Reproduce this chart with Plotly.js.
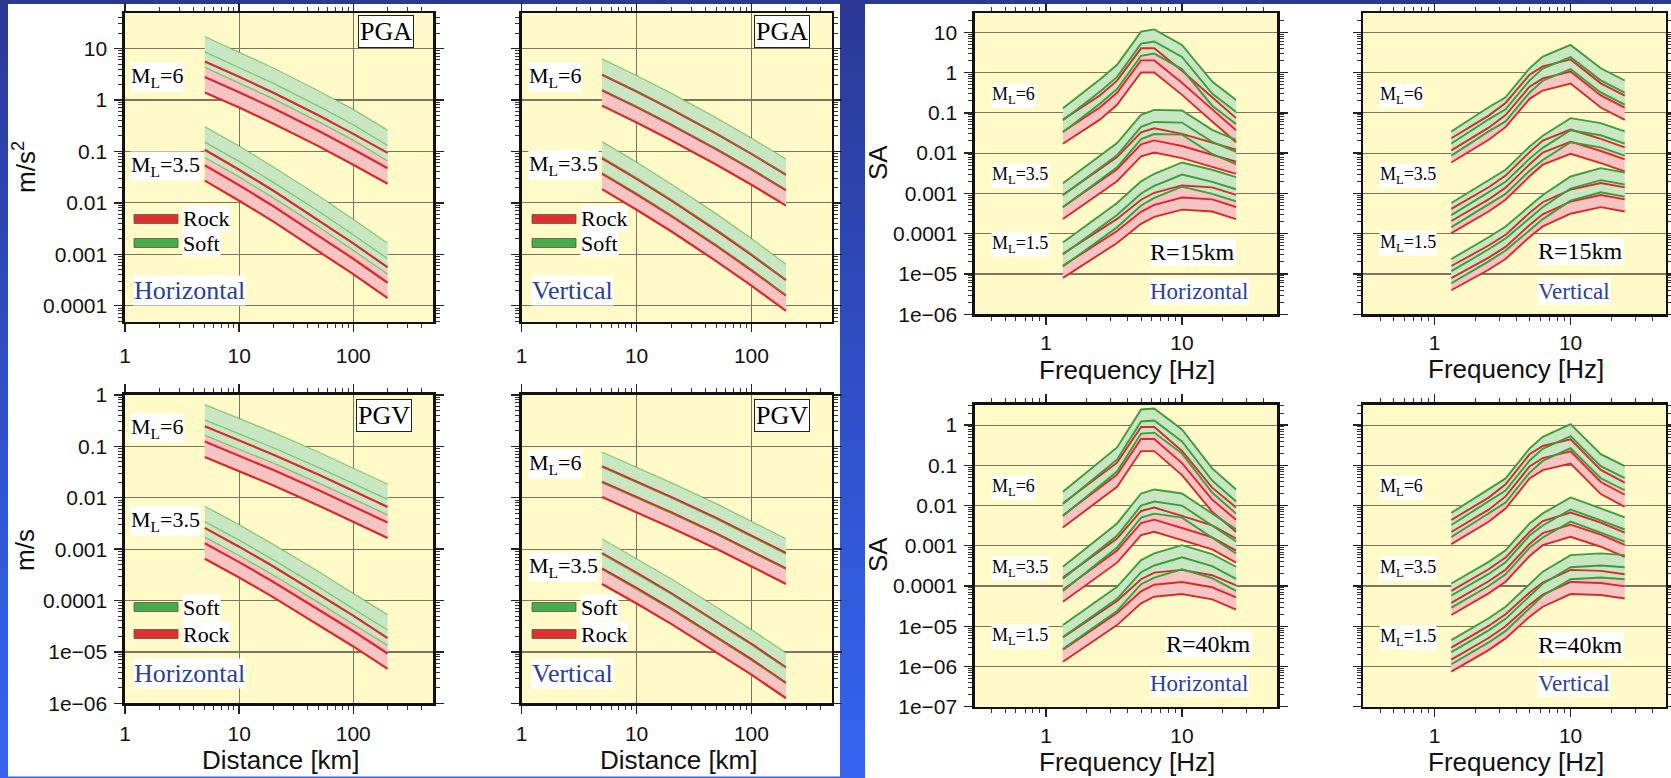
<!DOCTYPE html>
<html><head><meta charset="utf-8">
<script src="https://cdn.plot.ly/plotly-3.0.1.min.js"></script>
<style>
html,body{margin:0;padding:0;width:1671px;height:778px;overflow:hidden;
background:linear-gradient(180deg,#2b3894 0%,#3052cc 55%,#3464f0 100%);}
#chart{width:1671px;height:778px;}
</style></head><body><div id="chart"></div>
<script>
// ---------------- DATA ----------------
const DIST = [5, 10, 20, 50, 100, 200];                 // km
const FREQ = [1.33, 2.5, 3.33, 5, 6.25, 10, 16.67, 25];  // Hz
const SIGMA = 0.3;                                       // log10 band half-width (median x/÷ 2)

// PGA horizontal (m/s^2), median
const PGA_H_ROCK_M6  = [2.8, 1.42, 0.69, 0.25, 0.11, 0.047];
const PGA_H_SOFT_M6  = [8.6, 4.3, 2.1, 0.75, 0.33, 0.13];
const PGA_H_ROCK_M35 = [0.054, 0.022, 0.0086, 0.0023, 0.00082, 0.00028];
const PGA_H_SOFT_M35 = [0.152, 0.064, 0.025, 0.0068, 0.0024, 0.00082];
// PGA vertical
const PGA_V_ROCK_M6  = [1.55, 0.73, 0.33, 0.109, 0.045, 0.0176];
const PGA_V_SOFT_M6  = [3.16, 1.5, 0.68, 0.222, 0.091, 0.0358];
const PGA_V_ROCK_M35 = [0.037, 0.0147, 0.0056, 0.00144, 0.00049, 0.000158];
const PGA_V_SOFT_M35 = [0.0778, 0.031, 0.0117, 0.00303, 0.00102, 0.00032];
// PGV horizontal (m/s)
const PGV_H_ROCK_M6  = [0.124, 0.066, 0.0346, 0.014, 0.0069, 0.0033];
const PGV_H_SOFT_M6  = [0.327, 0.178, 0.094, 0.0385, 0.0192, 0.0093];
const PGV_H_ROCK_M35 = [0.0013, 0.00056, 0.00023, 6.7e-5, 2.55e-5, 9.3e-6];
const PGV_H_SOFT_M35 = [0.00343, 0.0015, 0.00062, 0.000182, 6.9e-5, 2.67e-5];
// PGV vertical
const PGV_V_ROCK_M6  = [0.0206, 0.0105, 0.0052, 0.002, 0.00093, 0.00042];
const PGV_V_SOFT_M6  = [0.039, 0.0199, 0.0099, 0.0038, 0.00176, 0.0008];
const PGV_V_ROCK_M35 = [0.00042, 0.000175, 7e-5, 1.95e-5, 7.2e-6, 2.5e-6];
const PGV_V_SOFT_M35 = [0.0008, 0.00033, 0.000133, 3.7e-5, 1.36e-5, 4.8e-6];

// SA horizontal, R = 15 km
const SA_H15_ROCK_M6  = [0.034, 0.137, 0.315, 2.0, 2.0, 0.557, 0.122, 0.037];
const SA_H15_SOFT_M6  = [0.0655, 0.34, 0.78, 5.2, 5.9, 2.43, 0.30, 0.105];
const SA_H15_ROCK_M35 = [4.6e-4, 2.0e-3, 4.0e-3, 0.0165, 0.0207, 0.015, 0.0093, 0.0061];
const SA_H15_SOFT_M35 = [9.0e-4, 4.3e-3, 8.9e-3, 0.0447, 0.0594, 0.0573, 0.019, 0.0107];
const SA_H15_ROCK_M15 = [1.6e-5, 6.3e-5, 1.17e-4, 3.5e-4, 5.2e-4, 7.9e-4, 7.1e-4, 4.6e-4];
const SA_H15_SOFT_M15 = [3.05e-5, 1.43e-4, 2.9e-4, 1.0e-3, 1.54e-3, 2.94e-3, 1.94e-3, 1.27e-3];
// SA vertical, R = 15 km
const SA_V15_ROCK_M6  = [0.0117, 0.0428, 0.088, 0.444, 0.714, 1.06, 0.27, 0.134];
const SA_V15_SOFT_M6  = [0.0173, 0.069, 0.122, 0.64, 1.25, 2.43, 0.64, 0.318];
const SA_V15_ROCK_M35 = [2.07e-4, 7.1e-4, 1.39e-3, 5.3e-3, 0.0103, 0.0192, 0.0113, 7.0e-3];
const SA_V15_SOFT_M35 = [2.9e-4, 1.09e-3, 1.94e-3, 7.3e-3, 0.0135, 0.037, 0.0278, 0.0173];
const SA_V15_ROCK_M15 = [7.9e-6, 2.55e-5, 4.7e-5, 1.65e-4, 3.03e-4, 6.25e-4, 9.1e-4, 7.1e-4];
const SA_V15_SOFT_M15 = [1.18e-5, 4.1e-5, 7.6e-5, 2.39e-4, 4.6e-4, 1.32e-3, 2.13e-3, 1.66e-3];
// SA horizontal, R = 40 km
const SA_H40_ROCK_M6  = [5.7e-3, 0.0283, 0.0585, 0.451, 0.451, 0.114, 0.014, 4.46e-3];
const SA_H40_SOFT_M6  = [0.011, 0.0632, 0.14, 1.23, 1.30, 0.391, 0.042, 0.0126];
const SA_H40_ROCK_M35 = [8.1e-5, 3.77e-4, 7.6e-4, 3.68e-3, 4.46e-3, 2.77e-3, 1.62e-3, 7.6e-4];
const SA_H40_SOFT_M35 = [1.51e-4, 8.3e-4, 1.8e-3, 0.01, 0.0126, 0.01, 3.2e-3, 1.28e-3];
const SA_H40_ROCK_M15 = [2.62e-6, 1.11e-5, 2.13e-5, 7.4e-5, 1.08e-4, 1.26e-4, 9.3e-5, 5.2e-5];
const SA_H40_SOFT_M15 = [5.4e-6, 2.43e-5, 4.8e-5, 2.21e-4, 3.24e-4, 5.2e-4, 3.12e-4, 1.51e-4];
// SA vertical, R = 40 km
const SA_V40_ROCK_M6  = [2.2e-3, 7.9e-3, 0.0169, 0.0942, 0.152, 0.222, 0.0385, 0.0186];
const SA_V40_SOFT_M6  = [3.3e-3, 0.0126, 0.0237, 0.132, 0.257, 0.531, 0.0953, 0.048];
const SA_V40_ROCK_M35 = [3.8e-5, 1.31e-4, 2.55e-4, 1.11e-3, 2.07e-3, 3.35e-3, 1.89e-3, 1.06e-3];
const SA_V40_SOFT_M35 = [5.8e-5, 2.0e-4, 3.9e-4, 1.8e-3, 3.2e-3, 7.98e-3, 4.26e-3, 2.54e-3];
const SA_V40_ROCK_M15 = [1.48e-6, 5.1e-6, 9.95e-6, 3.44e-5, 6.1e-5, 1.26e-4, 1.19e-4, 9.8e-5];
const SA_V40_SOFT_M15 = [2.27e-6, 7.9e-6, 1.53e-5, 5.8e-5, 1.14e-4, 2.94e-4, 3.24e-4, 2.94e-4];

// tick labels
const XT_DIST = [1, 10, 100];           const XL_DIST = ['1', '10', '100'];
const XT_FREQ = [1, 10];                const XL_FREQ = ['1', '10'];
const YT_PGA = [10, 1, 0.1, 0.01, 0.001, 0.0001];
const YL_PGA = ['10', '1', '0.1', '0.01', '0.001', '0.0001'];
const YT_PGV = [1, 0.1, 0.01, 0.001, 0.0001, 1e-5, 1e-6];
const YL_PGV = ['1', '0.1', '0.01', '0.001', '0.0001', '1e\u221205', '1e\u221206'];
const YT_SA15 = [10, 1, 0.1, 0.01, 0.001, 0.0001, 1e-5, 1e-6];
const YL_SA15 = ['10', '1', '0.1', '0.01', '0.001', '0.0001', '1e\u221205', '1e\u221206'];
const YT_SA40 = [1, 0.1, 0.01, 0.001, 0.0001, 1e-5, 1e-6, 1e-7];
const YL_SA40 = ['1', '0.1', '0.01', '0.001', '0.0001', '1e\u221205', '1e\u221206', '1e\u221207'];

// ---------------- LAYOUT / STYLE ----------------
const W = 1671, H = 778;
const fx = p => p / W, fy = p => 1 - p / H;
const PINK = '#f6c4c2', GREENF = '#c9e6c3';
const BLUE_TXT = '#2c3f98';
const SANS = 'Liberation Sans, Arial, sans-serif';
const SERIF = 'Liberation Serif, Times New Roman, serif';

const PANELS = [
  {n:1, box:[125,13.3,433,321.7], kind:'dist', yr:[-4.31,1.685], yt:YT_PGA, yl:YL_PGA, ylab:true, style:'L', so:5,
   groups:[[PGA_H_ROCK_M6,PGA_H_SOFT_M6],[PGA_H_ROCK_M35,PGA_H_SOFT_M35]]},
  {n:2, box:[521.7,13.3,831.7,321.7], kind:'dist', yr:[-4.31,1.685], yt:YT_PGA, yl:YL_PGA, ylab:false, style:'L', so:5,
   groups:[[PGA_V_ROCK_M6,PGA_V_SOFT_M6],[PGA_V_ROCK_M35,PGA_V_SOFT_M35]]},
  {n:3, box:[125,395,433,703.3], kind:'dist', yr:[-6,0], yt:YT_PGV, yl:YL_PGV, ylab:true, style:'L', so:2,
   groups:[[PGV_H_ROCK_M6,PGV_H_SOFT_M6],[PGV_H_ROCK_M35,PGV_H_SOFT_M35]]},
  {n:4, box:[521.7,395,831.7,703.3], kind:'dist', yr:[-6,0], yt:YT_PGV, yl:YL_PGV, ylab:false, style:'L', so:2,
   groups:[[PGV_V_ROCK_M6,PGV_V_SOFT_M6],[PGV_V_ROCK_M35,PGV_V_SOFT_M35]]},
  {n:5, box:[975,13.3,1277,314.3], kind:'freq', yr:[-6,1.47], yt:YT_SA15, yl:YL_SA15, ylab:true, style:'R', so:0,
   groups:[[SA_H15_ROCK_M6,SA_H15_SOFT_M6],[SA_H15_ROCK_M35,SA_H15_SOFT_M35],[SA_H15_ROCK_M15,SA_H15_SOFT_M15]]},
  {n:6, box:[1363.3,13.3,1665.7,314.3], kind:'freq', yr:[-6,1.47], yt:YT_SA15, yl:YL_SA15, ylab:false, style:'R', so:0,
   groups:[[SA_V15_ROCK_M6,SA_V15_SOFT_M6],[SA_V15_ROCK_M35,SA_V15_SOFT_M35],[SA_V15_ROCK_M15,SA_V15_SOFT_M15]]},
  {n:7, box:[975,405,1277,706.7], kind:'freq', yr:[-7,0.5], yt:YT_SA40, yl:YL_SA40, ylab:true, style:'R', so:0,
   groups:[[SA_H40_ROCK_M6,SA_H40_SOFT_M6],[SA_H40_ROCK_M35,SA_H40_SOFT_M35],[SA_H40_ROCK_M15,SA_H40_SOFT_M15]]},
  {n:8, box:[1363.3,405,1665.7,706.7], kind:'freq', yr:[-7,0.5], yt:YT_SA40, yl:YL_SA40, ylab:false, style:'R', so:0,
   groups:[[SA_V40_ROCK_M6,SA_V40_SOFT_M6],[SA_V40_ROCK_M35,SA_V40_SOFT_M35],[SA_V40_ROCK_M15,SA_V40_SOFT_M15]]}
];

function minorVals(lo, hi) {
  const out = [];
  for (let e = Math.floor(lo) - 1; e <= Math.ceil(hi); e++)
    for (let k = 2; k <= 9; k++) {
      const v = k * Math.pow(10, e), l = Math.log10(v);
      if (l > lo + 1e-6 && l < hi - 1e-6) out.push(v);
    }
  return out;
}

const traces = [];
const layout = {
  width: W, height: H, margin: {l:0, r:0, t:0, b:0},
  paper_bgcolor: 'rgba(0,0,0,0)', plot_bgcolor: 'rgba(0,0,0,0)',
  showlegend: false, shapes: [], annotations: []
};

// white panels + yellow plot areas (drawn below everything)
layout.shapes.push({type:'rect', xref:'paper', yref:'paper', x0:fx(8), x1:fx(840), y0:fy(776.5), y1:fy(4), fillcolor:'#ffffff', line:{width:0}, layer:'below'});
layout.shapes.push({type:'rect', xref:'paper', yref:'paper', x0:fx(865), x1:1, y0:0, y1:fy(4), fillcolor:'#ffffff', line:{width:0}, layer:'below'});

const factor = Math.pow(10, SIGMA);
PANELS.forEach(p => {
  const sfx = p.n === 1 ? '' : String(p.n);
  const xa = 'x' + sfx, ya = 'y' + sfx;
  const xr = p.kind === 'dist' ? [0, Math.log10(500)] : [Math.log10(0.3), Math.log10(50)];
  const xs = p.kind === 'dist' ? DIST : FREQ;
  const L = p.style === 'L';

  layout.shapes.push({type:'rect', xref:'paper', yref:'paper', x0:fx(p.box[0]), x1:fx(p.box[2]),
    y0:fy(p.box[3]), y1:fy(p.box[1]), fillcolor:'#fffac8', line:{width:0}, layer:'below'});

  const common = {
    type:'log', ticks:'outside', ticklen:8, tickwidth:1.4, tickcolor:'#222',
    showline:true, linewidth:2.6, linecolor:'#111', mirror:'allticks',
    gridcolor:'#7b7560', gridwidth:1.2, zeroline:false, fixedrange:true,
    tickfont:{family:SANS, size:21, color:'#111'}, tickmode:'array'
  };
  layout['xaxis' + sfx] = Object.assign({}, common, {
    domain:[fx(p.box[0]), fx(p.box[2])], anchor:ya, range:xr,
    tickvals: p.kind === 'dist' ? XT_DIST : XT_FREQ,
    ticktext: p.kind === 'dist' ? XL_DIST : XL_FREQ,
    showgrid: L, ticklabelstandoff: p.so,
    minor:{tickmode:'array', tickvals:minorVals(xr[0], xr[1]), ticks:'outside', ticklen:4, tickwidth:1, tickcolor:'#333', showgrid:false}
  });
  layout['yaxis' + sfx] = Object.assign({}, common, {
    domain:[fy(p.box[3]), fy(p.box[1])], anchor:xa, range:p.yr,
    tickvals:p.yt, ticktext:p.yl, showticklabels:p.ylab, showgrid:true, ticklabelstandoff:3,
    minor:{tickmode:'array', tickvals:minorVals(p.yr[0], p.yr[1]), ticks:'outside', ticklen:4, tickwidth:1, tickcolor:'#333', showgrid:false}
  });

  const band = (med, col) => {
    const up = med.map(v => v * factor), lo = med.map(v => v / factor);
    return {x: xs.concat(xs.slice().reverse()), y: up.concat(lo.slice().reverse()),
      mode:'lines', fill:'toself', fillcolor:col, line:{width:0}, xaxis:xa, yaxis:ya, hoverinfo:'skip'};
  };
  const lines = (med, color, width) => [med.map(v => v * factor), med, med.map(v => v / factor)].map(ys => (
    {x: xs, y: ys, mode:'lines', line:{color:color, width:width}, xaxis:xa, yaxis:ya, hoverinfo:'skip'}));

  p.groups.forEach(g => traces.push(band(g[0], PINK)));
  p.groups.forEach(g => traces.push(band(g[1], GREENF)));
  p.groups.forEach(g => lines(g[0], '#d9292b', L ? 2.2 : 1.9).forEach(t => traces.push(t)));
  p.groups.forEach(g => lines(g[1], L ? 'rgba(70,170,60,0.55)' : '#3b9d3b', L ? 1.3 : 1.9).forEach(t => traces.push(t)));
});

// ---------------- TEXT ----------------
function T(text, x, y, o) {
  const a = Object.assign({text:text, x:fx(x), y:fy(y), xref:'paper', yref:'paper', showarrow:false,
    xanchor:'left', yanchor:'middle', bgcolor:'#ffffff', borderpad:0,
    font:{family:SERIF, size:22, color:'#000'}}, o || {});
  layout.annotations.push(a);
}
function TITLE(text, x, y, angle) {
  layout.annotations.push({text:text, x:fx(x), y:fy(y), xref:'paper', yref:'paper', showarrow:false,
    xanchor:'center', yanchor:'middle', textangle:angle || 0, font:{family:SANS, size:26, color:'#111'}});
}
const boxed = {xanchor:'center', bordercolor:'#222', borderwidth:1, borderpad:1, font:{family:SERIF, size:26, color:'#000'}};
T('PGA', 386, 31, boxed); T('PGA', 782, 32, boxed);
T('PGV', 384, 416, boxed); T('PGV', 782, 416, boxed);

const ML6 = 'M<sub>L</sub>=6', ML35 = 'M<sub>L</sub>=3.5', ML15 = 'M<sub>L</sub>=1.5';
T(ML6, 130, 77); T(ML35, 130, 166); T(ML6, 528, 77); T(ML35, 528, 165);
T(ML6, 130, 428); T(ML35, 130, 521); T(ML6, 528, 464); T(ML35, 528, 567);
const sm = {font:{family:SERIF, size:18, color:'#000'}};
[[991, 95, 175, 244], [1379, 95, 175, 243], [991, 487, 568, 636], [1379, 487, 568, 637]].forEach(r => {
  T(ML6, r[0], r[1], sm); T(ML35, r[0], r[2], sm); T(ML15, r[0], r[3], sm);
});
const rk = {font:{family:SERIF, size:24, color:'#000'}};
T('R=15km', 1149, 252, rk); T('R=15km', 1537, 251, rk);
T('R=40km', 1165, 644, rk); T('R=40km', 1537, 645, rk);
const bl = {font:{family:SERIF, size:26, color:BLUE_TXT}};
const bls = {font:{family:SERIF, size:23, color:BLUE_TXT}};
T('Horizontal', 133, 290, bl); T('Vertical', 531, 290, bl);
T('Horizontal', 133, 673, bl); T('Vertical', 531, 673, bl);
T('Horizontal', 1149, 291, bls); T('Vertical', 1537, 291, bls);
T('Horizontal', 1149, 683, bls); T('Vertical', 1537, 683, bls);

// legend keys inside the left panels
function key(x, yc, color, label) {
  layout.shapes.push({type:'rect', xref:'paper', yref:'paper', x0:fx(x), x1:fx(x + 44), y0:fy(yc + 4.5), y1:fy(yc - 4.5),
    fillcolor:color, line:{color:'#555', width:0.8}, layer:'above'});
  T(label, x + 48, yc, {font:{family:SERIF, size:22, color:'#000'}});
}
key(134, 219, '#e03131', 'Rock'); key(134, 243, '#47ab47', 'Soft');
key(532, 219, '#e03131', 'Rock'); key(532, 243, '#47ab47', 'Soft');
key(134, 607, '#47ab47', 'Soft'); key(134, 634, '#e03131', 'Rock');
key(532, 607, '#47ab47', 'Soft'); key(532, 634, '#e03131', 'Rock');

// axis titles
TITLE('m/s<sup>2</sup>', 25, 167, -90);
TITLE('m/s', 25, 550, -90);
TITLE('Distance [km]', 281, 760); TITLE('Distance [km]', 679, 760);
TITLE('SA', 878, 163, -90); TITLE('SA', 878, 555, -90);
TITLE('Frequency [Hz]', 1127, 370); TITLE('Frequency [Hz]', 1516, 369);
TITLE('Frequency [Hz]', 1127, 762); TITLE('Frequency [Hz]', 1516, 762);

Plotly.newPlot('chart', traces, layout, {displayModeBar:false, staticPlot:true});
</script></body></html>
